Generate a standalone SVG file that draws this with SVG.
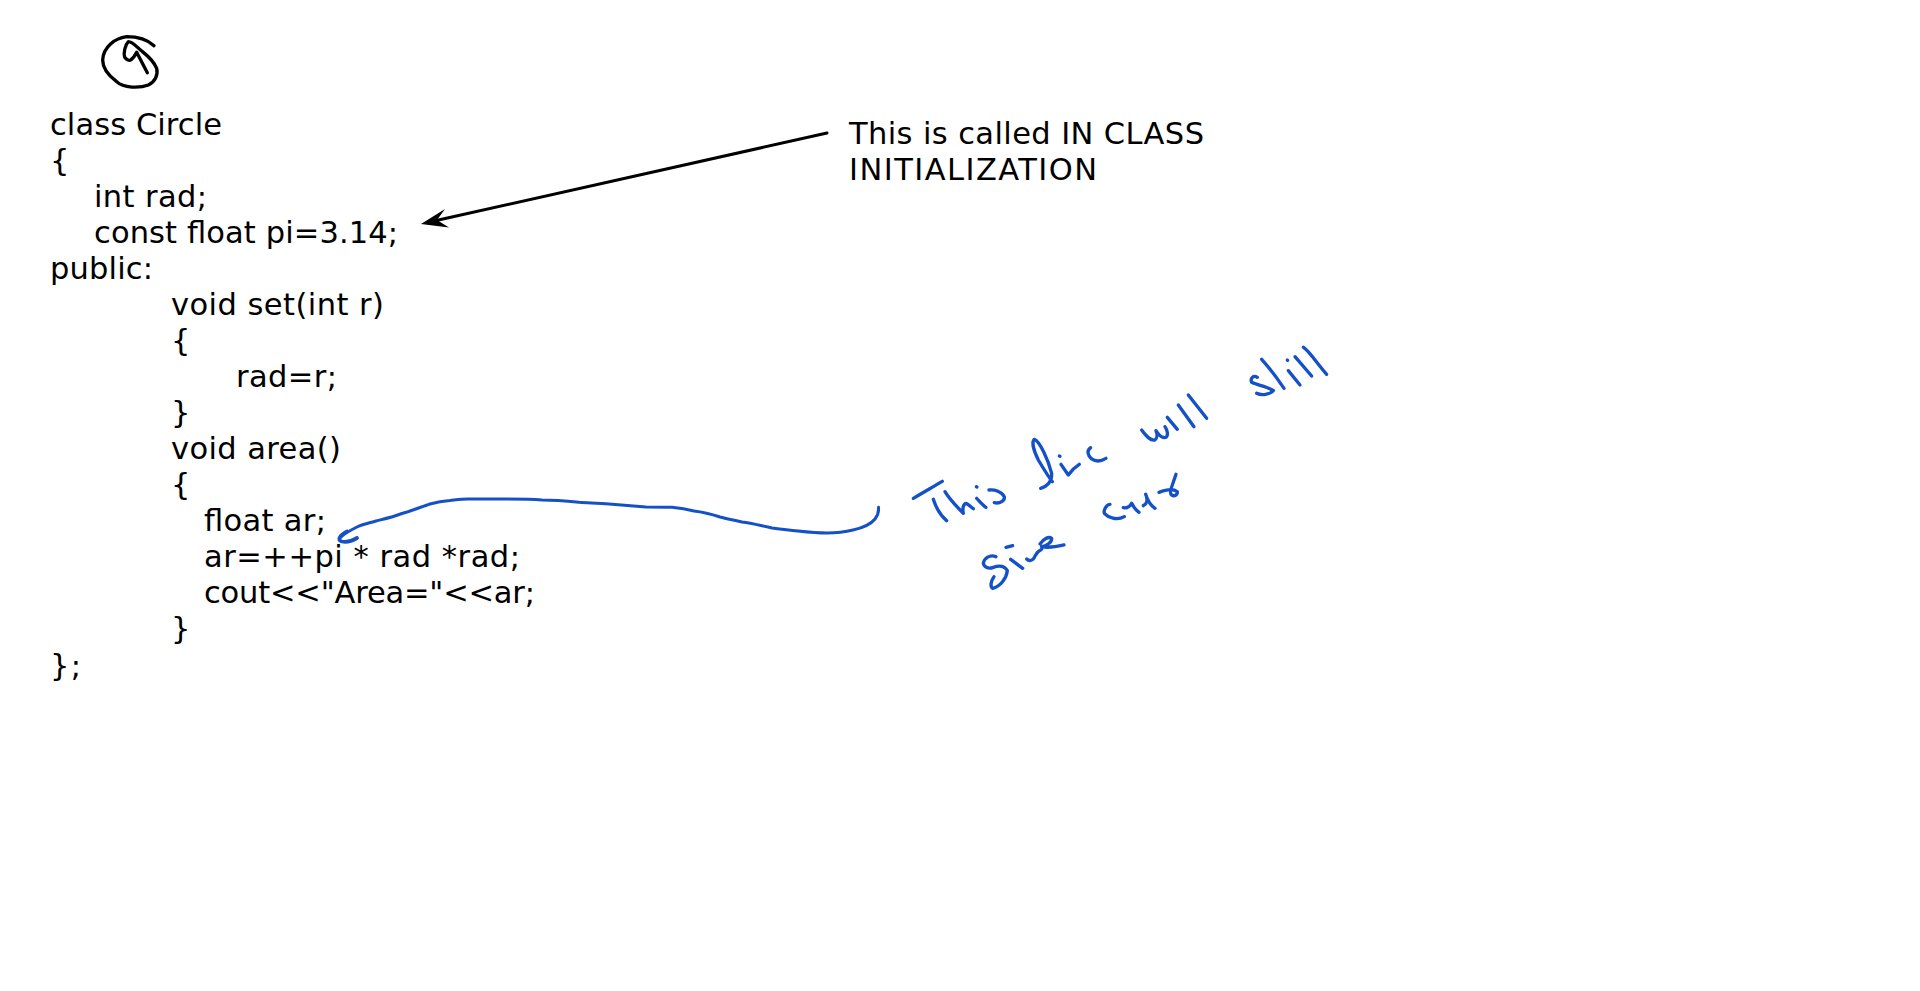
<svg xmlns="http://www.w3.org/2000/svg" width="1920" height="991" viewBox="0 0 1920 991">
<style>
text{font-family:"DejaVu Sans","Liberation Sans",sans-serif;font-size:30.500px;fill:#000}
.ink{fill:none;stroke-linecap:round;stroke-linejoin:round}
.blue{stroke:#1450c8;stroke-width:10}
.blue2{stroke:#1450c8;stroke-width:3}
.blk{stroke:#000;stroke-width:10}
</style>
<rect width="1920" height="991" fill="#fff"/>
<g id="icon" transform="translate(90 25) scale(.3333)">
<path class="ink blk" d="M192 62C170 42 140 35 110 35C75 40 40 65 38 105C38 130 60 155 80 170C100 190 150 190 175 180C195 170 205 150 200 130C190 105 170 90 155 78C140 66 128 50 115 50C105 60 100 85 104 97C110 105 118 108 122 105C130 100 136 90 140 82L172 143"/>
</g>
<g id="code">
<text x="50" y="135" textLength="172">class Circle</text>
<text x="50" y="171">{</text>
<text x="94" y="207" textLength="113">int rad;</text>
<text x="94" y="243" textLength="304">const float pi=3.14;</text>
<text x="50" y="279" textLength="103">public:</text>
<text x="171" y="315" textLength="213">void set(int r)</text>
<text x="171" y="351">{</text>
<text x="236" y="387" textLength="101">rad=r;</text>
<text x="171" y="423">}</text>
<text x="171" y="459" textLength="170">void area()</text>
<text x="171" y="495">{</text>
<text x="204" y="531" textLength="122">float ar;</text>
<text x="204" y="567" textLength="316">ar=++pi * rad *rad;</text>
<text x="204" y="603" textLength="331">cout&lt;&lt;"Area="&lt;&lt;ar;</text>
<text x="171" y="639">}</text>
<text x="50" y="676" textLength="31">};</text>
</g>
<g id="note">
<text x="849" y="144" textLength="355">This is called IN CLASS</text>
<text x="849" y="180" textLength="248">INITIALIZATION</text>
</g>
<g id="connectors">
<path class="ink" stroke="#000" stroke-width="3" d="M827 133L434 221"/>
<polygon points="421,224 445,209 437,220 449,227.500" fill="#000"/>
<path class="ink blue2" d="M878.500 507.300C879 512 878 515 875 519C871 524 862 528 853 530C845 532 836 533 827 533C817 533 807 532 798 531C788 530 780 529 772 528C762 526 752 523 742 522C734 520 727 519 720 517C711 514 703 512 694 511C686 509 679 508 672 507.300C663 507 655 507 646 507C634 506 621 505 609 504C599 503 589 503 579 502.300C566 501 554 500 542 500C530 499 517 499 505 499L468 499C461 499 455 500 450 500.500C443 501 437 502 430 504C421 507 411 511 402 513.500C393 517 384 519 376 521C369 523 363 524 357 527C351 530 345 533 341 537"/>
<path class="ink" stroke="#1450c8" stroke-width="3.800" d="M347 531.500C344 533 341 535 339.500 538C339 540 340 541 342 541.500C347 542.500 352 541 357 538"/>
</g>
<g id="handwriting" class="ink blue">
<g id="this-line" transform="translate(905 430) scale(.3333)">
<path d="M25 205C50 190 85 170 112 154"/>
<path d="M85 208C92 230 105 255 125 272"/>
<path d="M120 185C135 210 160 235 175 250C172 235 175 222 183 220C190 222 198 232 205 236"/>
<path d="M215 205C222 212 232 225 243 232"/>
<path d="M214 170L216 171"/>
<path d="M252 180C270 178 290 185 298 200C300 212 285 222 268 218"/>
<path d="M407 175C425 170 442 155 440 130C430 90 405 35 388 28C380 35 385 60 400 90C415 115 430 140 442 155"/>
</g>
<g id="ine" transform="translate(880 330) scale(.3333)">
<path d="M538 378L540 379"/>
<path d="M543 403L565 435C575 420 590 408 598 403"/>
<path d="M632 353C620 362 622 375 635 387C650 397 665 393 678 385"/>
<path d="M785 300C800 320 812 333 825 330C832 325 832 312 828 302C838 318 848 326 858 322C866 316 862 300 855 290"/>
<path d="M862 262L892 298"/>
<path d="M895 225L942 290"/>
<path d="M925 195L980 265"/>
</g>
<g id="still" transform="translate(1240 340) scale(.3333)">
<path d="M52 112C40 104 30 115 35 127C50 135 85 140 100 152C90 163 65 168 50 160"/>
<path d="M65 58C85 80 115 120 132 145"/>
<path d="M142 60L143 61"/>
<path d="M145 92L180 135"/>
<path d="M165 50L215 108"/>
<path d="M190 22C205 30 235 75 260 103"/>
</g>
<g id="give" transform="translate(970 530) scale(.3333)">
<path d="M78 80C60 72 42 85 40 100C42 112 55 118 70 112C90 105 105 110 112 122C110 145 90 170 68 175C60 170 62 155 72 140"/>
<path d="M108 52L128 47"/>
<path d="M122 88L158 115"/>
<path d="M170 87C178 95 190 92 195 78C200 68 207 62 215 58"/>
<path d="M210 42C220 28 235 18 245 25C247 37 228 48 215 50C235 55 260 50 282 45"/>
</g>
<g id="error" transform="translate(1095 465) scale(.3333)">
<path d="M45 118C35 118 25 135 28 145C40 158 65 168 88 155"/>
<path d="M85 128C95 130 105 125 110 115C115 125 122 135 132 142"/>
<path d="M145 122C155 118 160 105 152 88C158 108 168 122 180 130"/>
<path d="M192 82C210 75 235 70 247 80C248 90 238 95 230 90C222 85 228 70 232 60L243 28"/>
</g>
</g>
</svg>
